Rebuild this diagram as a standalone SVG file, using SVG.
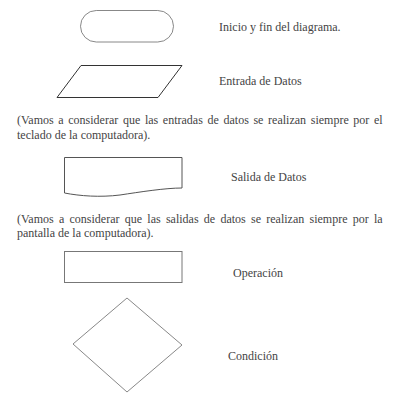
<svg xmlns="http://www.w3.org/2000/svg" width="400" height="400" viewBox="0 0 400 400">
<style>
text{font-family:"Liberation Serif","Times New Roman",serif;font-size:12px;fill:#444}
.s{fill:#fff;stroke-width:1}
</style>
<rect width="400" height="400" fill="#fff"/>
<g id="terminal">
<rect class="s" x="80.5" y="10.5" width="93" height="31.5" rx="15.75" stroke="#888"/>
<text x="219" y="31">Inicio y fin del diagrama.</text>
</g>
<g id="entrada">
<polygon class="s" points="81,65.5 182,65.5 158,97.5 57,97.5" stroke="#333"/>
<text x="219" y="85">Entrada de Datos</text>
</g>
<g id="nota-entrada">
<text x="17" y="124" word-spacing="1.65">(Vamos a considerar que las entradas de datos se realizan siempre por el</text>
<text x="17" y="139">teclado de la computadora).</text>
</g>
<g id="salida">
<path class="s" d="M64.5,193 L64.5,157.5 L182,157.5 L182,188 C165,188 140,192 120,195 C100,197.5 80,196 64.5,193 Z" stroke="#555"/>
<text x="231" y="181">Salida de Datos</text>
</g>
<g id="nota-salida">
<text x="17" y="223" word-spacing="2.26">(Vamos a considerar que las salidas de datos se realizan siempre por la</text>
<text x="17" y="237">pantalla de la computadora).</text>
</g>
<g id="operacion">
<rect class="s" x="64.5" y="251.5" width="117.5" height="31" stroke="#777"/>
<text x="233" y="277">Operación</text>
</g>
<g id="condicion">
<polygon class="s" points="127,298 182,345 127,392 73,344" stroke="#888"/>
<text x="228" y="360">Condición</text>
</g>
<g id="connectors"/>
</svg>
